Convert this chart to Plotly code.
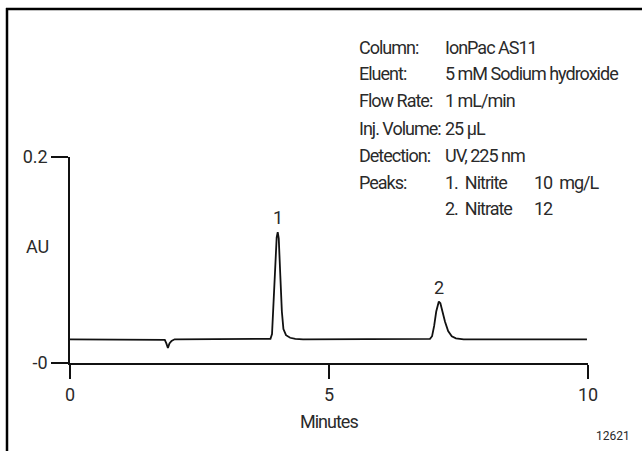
import plotly.graph_objects as go

# ---- data ----
time_min = [0.00, 1.00, 1.78, 1.83, 1.86, 1.89, 1.92, 1.96, 2.02, 3.00,
            3.80, 3.87, 3.90, 3.93, 3.96, 3.99, 4.01, 4.03, 4.06, 4.09,
            4.12, 4.17, 4.25, 4.35, 4.50, 5.50, 6.85, 6.95, 6.99, 7.03,
            7.07, 7.10, 7.12, 7.15, 7.19, 7.24, 7.30, 7.37, 7.45, 7.60,
            8.50, 9.98]
signal_au = [0.0230, 0.0230, 0.0230, 0.0225, 0.0190, 0.0145, 0.0190, 0.0215, 0.0230, 0.0230,
             0.0230, 0.0235, 0.0280, 0.0550, 0.0950, 0.1220, 0.1270, 0.1210, 0.0850, 0.0500,
             0.0330, 0.0270, 0.0245, 0.0235, 0.0230, 0.0230, 0.0230, 0.0235, 0.0260, 0.0360,
             0.0500, 0.0580, 0.0597, 0.0580, 0.0500, 0.0400, 0.0310, 0.0260, 0.0240, 0.0230,
             0.0230, 0.0230]

peak_labels = ["1", "2"]
peak_times = [4.01, 7.12]
peak_heights = [0.1270, 0.0597]

x_tickvals = [0, 5, 10]
x_ticktext = ["0", "5", "10"]
y_tickvals = [0, 0.2]
y_ticktext = ["-0", "0.2"]

info_labels = ["Column:", "Eluent:", "Flow Rate:", "Inj. Volume:", "Detection:", "Peaks:", ""]
info_values = ["IonPac AS11", "5 mM Sodium hydroxide", "1 mL/min", "25 \u03bcL",
               "UV, 225 nm", "1.  Nitrite", "2.  Nitrate"]
info_conc = ["", "", "", "", "", "10  mg/L", "12"]

# ---- layout geometry (pixels) ----
W, H = 642, 451
PL, PR, PT, PB = 70, 588, 157, 363
FONT = "Roboto, Liberation Sans, sans-serif"
TXT = "#2a2a2a"
FS = 18


def px(x):
    return (x - PL) / (PR - PL)


def py(y):
    return (PB - y) / (PB - PT)


def tfont(size=FS):
    return dict(family=FONT, size=size, color=TXT)


def tight(s):
    return '<span style="letter-spacing:-1px">' + s + '</span>'


fig = go.Figure()
fig.add_trace(go.Scatter(x=time_min, y=signal_au, mode="lines",
                         line=dict(color="#111111", width=1.8), hoverinfo="skip"))

ann = []
row_y = [47, 74, 101, 128, 155, 182, 208]
for lab, val, conc, yy in zip(info_labels, info_values, info_conc, row_y):
    for txt, xx in ((lab, 357), (val, 443), (conc, 532)):
        if txt:
            ann.append(dict(text=tight(txt), x=px(xx), y=py(yy), xref="paper", yref="paper",
                            xanchor="left", yanchor="middle", showarrow=False,
                            font=tfont()))

for lab, t, h in zip(peak_labels, peak_times, peak_heights):
    ann.append(dict(text=lab, x=t, y=h, xref="x", yref="y", xanchor="center",
                    yanchor="bottom", yshift=2, showarrow=False, font=tfont()))

ann.append(dict(text="AU", x=px(37), y=py(246), xref="paper", yref="paper",
                xanchor="center", yanchor="middle", showarrow=False, font=tfont()))
ann.append(dict(text=tight("Minutes"), x=px(329), y=py(421), xref="paper", yref="paper",
                xanchor="center", yanchor="middle", showarrow=False, font=tfont()))
ann.append(dict(text="12621", x=px(613), y=py(436), xref="paper", yref="paper",
                xanchor="center", yanchor="middle", showarrow=False, font=tfont(12)))

shapes = [
    dict(type="line", xref="paper", yref="paper", x0=px(7), x1=px(7), y0=py(8), y1=py(455),
         line=dict(color="black", width=2.5)),
    dict(type="line", xref="paper", yref="paper", x0=px(6), x1=px(650), y0=py(9), y1=py(9),
         line=dict(color="black", width=2.5)),
]

fig.update_layout(
    width=W, height=H,
    margin=dict(l=PL, r=W - PR, t=PT, b=H - PB, pad=0),
    paper_bgcolor="white", plot_bgcolor="white",
    showlegend=False,
    annotations=ann, shapes=shapes,
    font=tfont(),
)
fig.update_xaxes(range=[0, 10], tickvals=x_tickvals, ticktext=x_ticktext,
                 showline=True, linecolor="#111111", linewidth=1.5,
                 ticks="outside", ticklen=14, tickwidth=1.5, tickcolor="#111111",
                 showgrid=False, zeroline=False, fixedrange=True,
                 tickfont=tfont(), ticklabelstandoff=1)
fig.update_yaxes(range=[0, 0.2], tickvals=y_tickvals, ticktext=y_ticktext,
                 showline=True, linecolor="#111111", linewidth=1.5,
                 ticks="outside", ticklen=17, tickwidth=1.5, tickcolor="#111111",
                 showgrid=False, zeroline=False, fixedrange=True,
                 tickfont=tfont())

fig.write_html("out.html", config={"displayModeBar": False},
               post_script="document.body.style.margin='0';document.body.style.overflow='hidden';")
